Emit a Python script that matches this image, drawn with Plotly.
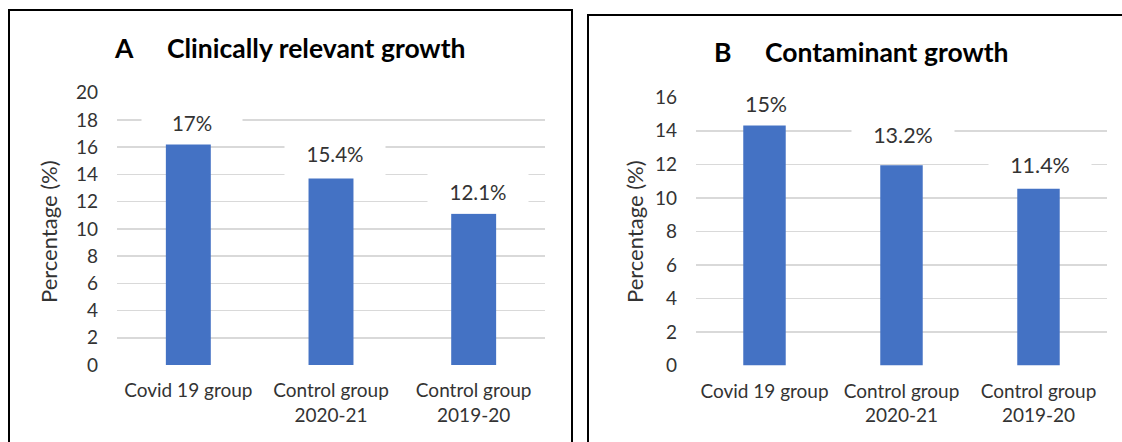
import plotly.graph_objects as go

# ---- data ----
categories = ["Covid 19 group", "Control group<br>2020-21", "Control group<br>2019-20"]
clinical_values = [16.6, 13.7, 11.1]
clinical_labels = ["17%", "15.4%", "12.1%"]
contaminant_values = [14.4, 11.95, 10.55]
contaminant_labels = ["15%", "13.2%", "11.4%"]
clinical_ticks = [0, 2, 4, 6, 8, 10, 12, 14, 16, 18, 20]
contaminant_ticks = [0, 2, 4, 6, 8, 10, 12, 14, 16]

W, H = 1122, 442
BAR = "#4472C4"
GRID = "#d9d9d9"
TXT = "#333333"
FONT = "Lato"

def px(x):
    return x / W

def py(y):
    return (H - y) / H

fig = go.Figure()
fig.add_trace(go.Bar(x=categories, y=clinical_values, xaxis="x", yaxis="y",
                     marker=dict(color=BAR, line=dict(width=0)), width=0.315,
                     hoverinfo="skip", showlegend=False))
fig.add_trace(go.Bar(x=categories, y=contaminant_values, xaxis="x2", yaxis="y2",
                     marker=dict(color=BAR, line=dict(width=0)), width=0.31,
                     hoverinfo="skip", showlegend=False))

axis_common = dict(showline=False, zeroline=False, ticks="", automargin=False,
                   tickfont=dict(family=FONT, size=19, color=TXT), fixedrange=True)

fig.update_layout(
    template="none",
    width=W, height=H, margin=dict(l=0, r=0, t=0, b=0, pad=0), autosize=False,
    paper_bgcolor="white", plot_bgcolor="white",
    font=dict(family=FONT, color=TXT),
    xaxis=dict(domain=[px(117), px(545)], showgrid=False, ticklabelstandoff=12, **axis_common),
    yaxis=dict(domain=[py(365), py(92.7)], range=[0, 20], tickvals=clinical_ticks,
               showgrid=True, gridcolor=GRID, gridwidth=1.6, ticklabelstandoff=18, **axis_common),
    xaxis2=dict(domain=[px(696), px(1107)], anchor="y2", showgrid=False, ticklabelstandoff=12, **axis_common),
    yaxis2=dict(domain=[py(365.5), py(97.3)], range=[0, 16], anchor="x2", tickvals=contaminant_ticks,
                showgrid=True, gridcolor=GRID, gridwidth=1.6, ticklabelstandoff=18, **axis_common),
)

annotations = []
# data labels (white boxes masking gridlines)
label_shift_a = [16, 24, 22]
label_shift_b = [20, 30, 24]
for i, cat in enumerate(categories):
    annotations.append(dict(x=cat, y=clinical_values[i], xref="x", yref="y", text=clinical_labels[i],
                            showarrow=False, yanchor="middle", yshift=label_shift_a[i], xshift=4,
                            bgcolor="white", width=98, height=40,
                            font=dict(family=FONT, size=20.5, color=TXT)))
    annotations.append(dict(x=cat, y=contaminant_values[i], xref="x2", yref="y2", text=contaminant_labels[i],
                            showarrow=False, yanchor="middle", yshift=label_shift_b[i], xshift=1,
                            bgcolor="white", width=100, height=40,
                            font=dict(family=FONT, size=21.5, color=TXT)))

# titles
title_font = dict(family=FONT, size=26.5, color="black", weight="bold")
annotations += [
    dict(x=px(124), y=py(48), xref="paper", yref="paper", text="<b>A</b>", showarrow=False,
         xanchor="center", yanchor="middle", font=title_font),
    dict(x=px(165), y=py(48), xref="paper", yref="paper", text="<b>Clinically relevant growth</b>",
         showarrow=False, xanchor="left", yanchor="middle", font=title_font),
    dict(x=px(722), y=py(52), xref="paper", yref="paper", text="<b>B</b>", showarrow=False,
         xanchor="center", yanchor="middle", font=title_font),
    dict(x=px(762.5), y=py(52), xref="paper", yref="paper", text="<b>Contaminant growth</b>",
         showarrow=False, xanchor="left", yanchor="middle", font=title_font),
    # y-axis titles
    dict(x=px(48), y=py(232), xref="paper", yref="paper", text="Percentage (%)", textangle=-90,
         showarrow=False, xanchor="center", yanchor="middle", font=dict(family=FONT, size=22, color=TXT)),
    dict(x=px(634), y=py(232), xref="paper", yref="paper", text="Percentage (%)", textangle=-90,
         showarrow=False, xanchor="center", yanchor="middle", font=dict(family=FONT, size=22, color=TXT)),
]
fig.update_layout(annotations=annotations)

# panel borders
fig.add_shape(type="rect", xref="paper", yref="paper", x0=px(9), x1=px(572), y0=-0.2, y1=py(10),
              line=dict(color="black", width=2), fillcolor="rgba(0,0,0,0)", layer="above")
fig.add_shape(type="rect", xref="paper", yref="paper", x0=px(588), x1=1.2, y0=-0.2, y1=py(15),
              line=dict(color="black", width=2), fillcolor="rgba(0,0,0,0)", layer="above")

fig.write_html("out.html", config={"displayModeBar": False, "staticPlot": True},
               post_script="document.body.style.margin='0';document.body.style.overflow='hidden';")
